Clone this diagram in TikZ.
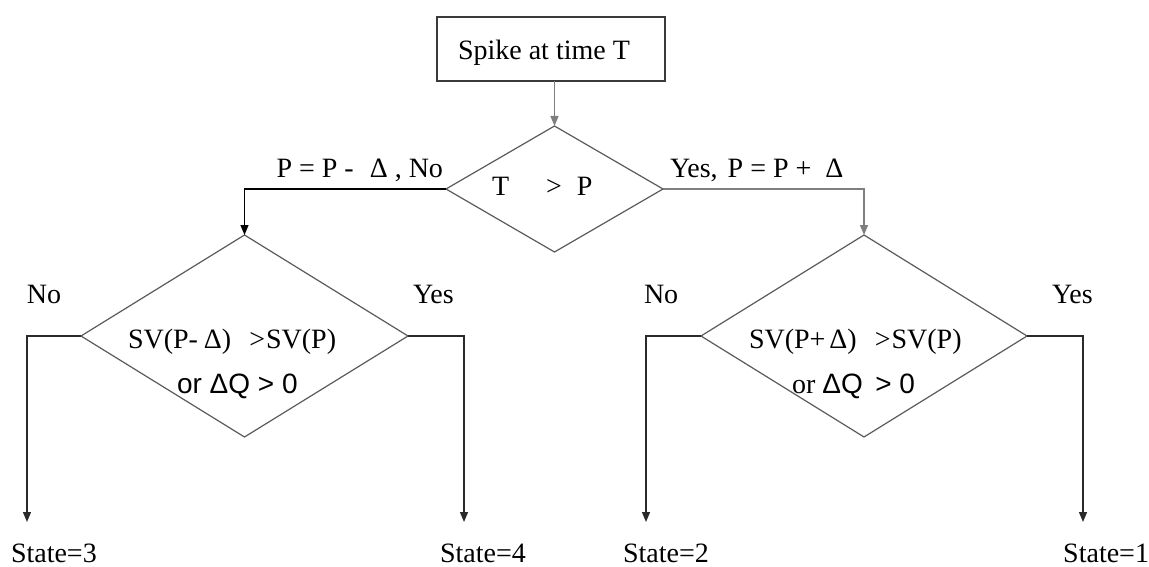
\documentclass[tikz,border=0pt]{standalone}
\usepackage{fontspec}
\setmainfont{Liberation Serif}
\newfontfamily\arialfam{Liberation Sans}
\usetikzlibrary{shapes.geometric,arrows.meta}

\definecolor{boxgray}{HTML}{3A3A3A}
\definecolor{lightline}{HTML}{7F7F7F}
\definecolor{midline}{HTML}{5A5A5A}
\definecolor{darkline}{HTML}{2A2A2A}

\begin{document}
\begin{tikzpicture}[x=1pt,y=-1pt,
  every node/.style={font=\fontsize{28}{32}\selectfont, inner sep=0pt, outer sep=0pt},
  boxnode/.style={draw=boxgray, line width=1.3pt, minimum width=228pt, minimum height=64pt},
  decision/.style={diamond, draw=midline, line width=1.2pt},
  conn/.style={line width=1.2pt, -{Triangle[length=10pt,width=8pt]}}
]
\useasboundingbox (0,0) rectangle (1149,567);

% start box
\node[boxnode] (start) at (551,49) {};
\node[anchor=base west] (starttxt) at (458,60) {Spike at time T};

% first decision
\node[decision, minimum width=217pt, minimum height=126pt] (top) at (554.5,189) {};
\node[anchor=base west] (toptxt) at (492,196) {T\hspace{37pt}>\hspace{15pt}P};

% second-level decisions
\node[decision, minimum width=327pt, minimum height=202pt] (left) at (244.5,336) {};
\node[decision, minimum width=326pt, minimum height=202pt] (right) at (864,336) {};

\node[anchor=base west] (lefttxt1) at (128,348) {SV(P-\hspace{6pt}Δ)\hspace{18pt}>\hspace{1pt}SV(P)};
\node[anchor=base west] (lefttxt2) at (177,393) {\arialfam or ΔQ > 0};
\node[anchor=base west] (righttxt1) at (749,348) {SV(P+\hspace{4pt}Δ)\hspace{18pt}>\hspace{1pt}SV(P)};
\node[anchor=base west] (righttxt2) at (792,393) {or \arialfam ΔQ \,> 0};

% branch labels
\node[anchor=base east] (nolbl) at (443,178) {P = P -\hspace{16pt}Δ , No};
\node[anchor=base west] (yeslbl) at (670,178) {Yes,\hspace{10pt}P = P +\hspace{14pt}Δ};
\node[anchor=base west] (lno) at (27,303) {No};
\node[anchor=base west] (lyes) at (413,303) {Yes};
\node[anchor=base west] (rno) at (644,303) {No};
\node[anchor=base west] (ryes) at (1052,303) {Yes};

% outcomes
\coordinate (e3) at (27,522);
\coordinate (e4) at (464,522);
\coordinate (e2) at (646,522);
\coordinate (e1) at (1083,522);
\node[anchor=base west] (s3) at (11,562) {State=3};
\node[anchor=base west] (s4) at (440,562) {State=4};
\node[anchor=base west] (s2) at (623,562) {State=2};
\node[anchor=base east] (s1) at (1149,562) {State=1};

% connectors
\draw[conn, draw=lightline, fill=lightline] (start.south -| top.north) -- (top.north);
\draw[conn, draw=black] (top.west) -| (left.north);
\draw[conn, draw=lightline] (top.east) -| (right.north);
\draw[conn, draw=darkline] (left.west) -| (e3);
\draw[conn, draw=darkline] (left.east) -| (e4);
\draw[conn, draw=darkline] (right.west) -| (e2);
\draw[conn, draw=darkline] (right.east) -| (e1);
\end{tikzpicture}
\end{document}
